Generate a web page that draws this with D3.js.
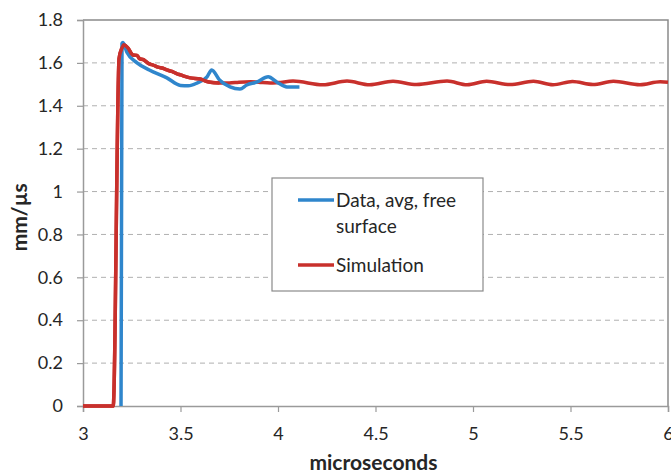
<!DOCTYPE html>
<html>
<head>
<meta charset="utf-8">
<script src="https://cdn.jsdelivr.net/npm/d3@7"></script>
<style>
  body { margin: 0; background: #fff; }
  text { font-family: Lato, "Open Sans", sans-serif; fill: #262626; }
</style>
</head>
<body>
<div id="chart"></div>
<script>
"use strict";
// simulation (red)
var simX = [3.0, 3.155, 3.185, 3.2, 3.21, 3.23, 3.256, 3.277, 3.29, 3.31, 3.34, 3.36, 3.385, 3.41, 3.43, 3.456, 3.48, 3.5, 3.55, 3.6, 3.64, 3.7, 3.75, 3.8, 3.86, 3.9, 3.96, 4.0, 4.077, 4.23, 4.354, 4.47, 4.59, 4.71, 4.867, 4.97, 5.07, 5.19, 5.31, 5.41, 5.51, 5.615, 5.72, 5.856, 5.96, 6.0];
var simY = [0, 0, 1.62, 1.67, 1.685, 1.67, 1.637, 1.635, 1.62, 1.615, 1.595, 1.59, 1.58, 1.575, 1.567, 1.56, 1.55, 1.544, 1.53, 1.525, 1.512, 1.506, 1.506, 1.51, 1.512, 1.51, 1.506, 1.508, 1.515, 1.498, 1.515, 1.498, 1.514, 1.499, 1.515, 1.498, 1.514, 1.499, 1.514, 1.498, 1.513, 1.499, 1.514, 1.498, 1.512, 1.51];
// data, avg, free surface (blue)
var dataX = [3.195, 3.2, 3.205, 3.225, 3.277, 3.34, 3.43, 3.5, 3.54, 3.585, 3.636, 3.66, 3.70, 3.754, 3.805, 3.84, 3.89, 3.95, 3.995, 4.046, 4.11];
var dataY = [0, 1.69, 1.695, 1.65, 1.6, 1.567, 1.53, 1.495, 1.493, 1.506, 1.535, 1.567, 1.52, 1.488, 1.478, 1.497, 1.51, 1.535, 1.51, 1.488, 1.488];
var xTicks = [3, 3.5, 4, 4.5, 5, 5.5, 6];
var yTicks = [0, 0.2, 0.4, 0.6, 0.8, 1, 1.2, 1.4, 1.6, 1.8];
var legendLabels = [["Data, avg, free", "surface"], ["Simulation"]];
var seriesColors = ["#2f86cc", "#c8302c"];

var W = 671, H = 476;
var margin = { top: 20, right: 3, bottom: 70, left: 83 };
var width = W - margin.left - margin.right;
var height = H - margin.top - margin.bottom;

var svg = d3.select("#chart").append("svg")
    .attr("width", W).attr("height", H);
var g = svg.append("g")
    .attr("transform", "translate(" + margin.left + "," + margin.top + ")");

var x = d3.scaleLinear().domain([3, 6]).range([0, width]);
var y = d3.scaleLinear().domain([0, 1.8]).range([height, 0]);

// gridlines
g.selectAll(".grid").data(yTicks.filter(function (d) { return d > 0 && d < 1.8; }))
    .enter().append("line")
    .attr("x1", 0).attr("x2", width)
    .attr("y1", function (d) { return y(d); })
    .attr("y2", function (d) { return y(d); })
    .attr("stroke", "#b0b0b0").attr("stroke-width", 1)
    .attr("stroke-dasharray", "5,4");

// top + right border
g.append("path")
    .attr("d", "M0," + y(1.8) + "H" + width + "V" + height)
    .attr("fill", "none").attr("stroke", "#8a8a8a").attr("stroke-width", 1.5);

var xAxis = d3.axisBottom(x).tickValues(xTicks).tickSize(6).tickPadding(15)
    .tickFormat(function (d) { return String(d); });
var yAxis = d3.axisLeft(y).tickValues(yTicks).tickSize(6).tickPadding(14)
    .tickFormat(function (d) { return String(d); });

var gx = g.append("g").attr("transform", "translate(0," + height + ")").call(xAxis);
var gy = g.append("g").call(yAxis);
[gx, gy].forEach(function (a) {
    a.select(".domain").attr("stroke", "#9a9a9a").attr("stroke-width", 1.5);
    a.selectAll(".tick line").attr("stroke", "#9a9a9a").attr("stroke-width", 1.2);
    a.selectAll(".tick text").style("font-size", "18px").attr("fill", "#262626");
});

// lines
var line = d3.line()
    .x(function (d) { return x(d[0]); })
    .y(function (d) { return y(d[1]); })
    .curve(d3.curveMonotoneX);

var simPts = simX.map(function (v, i) { return [v, simY[i]]; });
var dataPts = dataX.map(function (v, i) { return [v, dataY[i]]; });

g.append("path").datum(simPts).attr("d", line)
    .attr("fill", "none").attr("stroke", seriesColors[1]).attr("stroke-width", 3.5)
    .attr("stroke-linejoin", "round");
g.append("path").datum(dataPts).attr("d", line)
    .attr("fill", "none").attr("stroke", seriesColors[0]).attr("stroke-width", 3.5)
    .attr("stroke-linejoin", "round");
// red drawn over blue near the peak in the reference
g.append("path").datum(simPts.slice(0, 22)).attr("d", line)
    .attr("fill", "none").attr("stroke", seriesColors[1]).attr("stroke-width", 3.5)
    .attr("stroke-linejoin", "round");

// legend
var lg = svg.append("g").attr("transform", "translate(272,178)");
lg.append("rect").attr("width", 211).attr("height", 113)
    .attr("fill", "#fff").attr("stroke", "#8a8a8a").attr("stroke-width", 1.2);
var rowsY = [22, 87];
legendLabels.forEach(function (lines, i) {
    lg.append("line").attr("x1", 26).attr("x2", 62)
        .attr("y1", rowsY[i]).attr("y2", rowsY[i])
        .attr("stroke", seriesColors[i]).attr("stroke-width", 3.5);
    lines.forEach(function (t, j) {
        lg.append("text").attr("x", 64).attr("y", rowsY[i] + 7 + j * 26)
            .style("font-size", "19px").text(t);
    });
});

// axis titles
svg.append("text")
    .attr("x", margin.left + x(4.5) - 2).attr("y", 470)
    .attr("text-anchor", "middle")
    .style("font-size", "21px").style("font-weight", "bold")
    .text("microseconds");
svg.append("text")
    .attr("transform", "translate(27," + (margin.top + y(0.88)) + ") rotate(-90)")
    .attr("text-anchor", "middle")
    .style("font-size", "21px").style("font-weight", "bold")
    .text("mm/µs");
</script>
</body>
</html>
